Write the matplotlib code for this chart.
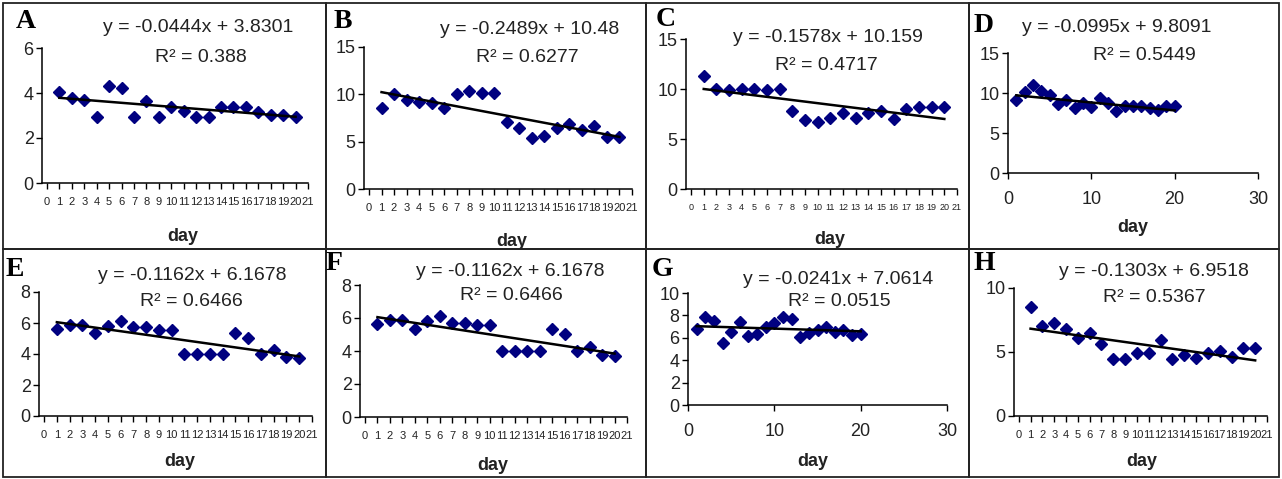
import numpy as np
import matplotlib.pyplot as plt
from matplotlib.patches import Rectangle

W, H = 1282, 479

# ---- data ----
panel_letters = ['A', 'B', 'C', 'D', 'E', 'F', 'G', 'H']
days = list(range(1, 21))

a_vals = [4.06, 3.76, 3.69, 2.95, 4.29, 4.24, 2.95, 3.66, 2.95, 3.36,
          3.20, 2.95, 2.95, 3.39, 3.39, 3.39, 3.17, 3.02, 3.02, 2.95]
b_vals = [8.59, 9.99, 9.39, 9.22, 9.04, 8.52, 9.99, 10.37, 10.16, 10.16,
          7.12, 6.41, 5.43, 5.61, 6.41, 6.83, 6.24, 6.66, 5.50, 5.50]
c_vals = [11.27, 10.0, 9.87, 10.0, 10.0, 9.87, 10.0, 7.83, 6.93, 6.70,
          7.10, 7.60, 7.10, 7.60, 7.83, 7.03, 8.00, 8.17, 8.17, 8.17]
d_vals = [9.08, 10.08, 11.04, 10.2, 9.8, 8.6, 9.17, 8.1, 8.75, 8.3,
          9.4, 8.75, 7.7, 8.33, 8.33, 8.33, 8.1, 7.9, 8.4, 8.33]
e_vals = [5.64, 5.86, 5.90, 5.36, 5.79, 6.12, 5.71, 5.71, 5.58, 5.58,
          4.03, 4.03, 4.03, 4.03, 5.36, 5.06, 4.03, 4.25, 3.78, 3.71]
f_vals = list(e_vals)
g_vals = [6.78, 7.82, 7.52, 5.52, 6.51, 7.40, 6.18, 6.36, 7.00, 7.31,
          7.85, 7.67, 6.03, 6.42, 6.66, 6.96, 6.48, 6.66, 6.27, 6.33]
h_vals = [8.52, 7.01, 7.30, 6.78, 6.13, 6.52, 5.61, 4.49, 4.49, 4.94,
          4.94, 5.92, 4.49, 4.75, 4.57, 4.94, 5.06, 4.62, 5.32, 5.32]

slopes = [-0.0444, -0.2489, -0.1578, -0.0995, -0.1162, -0.1162, -0.0241, -0.1303]
intercepts = [3.8301, 10.48, 10.159, 9.8091, 6.1678, 6.1678, 7.0614, 6.9518]
eq_labels = ['y = -0.0444x + 3.8301', 'y = -0.2489x + 10.48', 'y = -0.1578x + 10.159',
             'y = -0.0995x + 9.8091', 'y = -0.1162x + 6.1678', 'y = -0.1162x + 6.1678',
             'y = -0.0241x + 7.0614', 'y = -0.1303x + 6.9518']
r2_labels = ['0.388', '0.6277', '0.4717', '0.5449', '0.6466', '0.6466', '0.0515', '0.5367']

y_maxes = [6, 15, 15, 15, 8, 8, 10, 10]
y_steps = [2, 5, 5, 5, 2, 2, 2, 5]
numeric_x = [False, False, False, True, False, False, True, False]
cat_ticks = list(range(0, 22))
num_ticks = [0, 10, 20, 30]

all_vals = [a_vals, b_vals, c_vals, d_vals, e_vals, f_vals, g_vals, h_vals]

# ---- layout in pixels ----
# axes box: left, right, top, bottom
boxes = [(42, 308, 48, 183), (364, 632, 47, 189), (686, 957, 39, 189), (1008, 1258, 53, 173),
         (39, 312, 292, 416), (360, 627, 285, 417), (688, 947, 293, 405), (1014, 1267, 288, 416)]
eq_pos = [(198, 28), (530, 30), (828, 38), (1117, 27), (192, 275), (510, 272), (838, 280), (1154, 272)]
r2_pos = [(201, 57), (527, 57), (826, 65), (1144, 55), (191, 302), (511, 295), (839, 302), (1154, 297)]
letter_pos = [(16, 22), (334, 22), (656, 20), (974, 26), (6, 269), (326, 264), (652, 269), (974, 264)]
day_pos = [(183, 236), (512, 241), (830, 240), (1133, 228), (180, 462), (493, 466), (813, 462), (1142, 462)]
col_edges = [3, 326, 646, 969, 1279]
row_edges = [3, 249, 477]

plt.rcParams['font.family'] = 'Liberation Sans'
fig = plt.figure(figsize=(W / 100, H / 100), dpi=100)


def fx(px):
    return px / W


def fy(py):
    return 1 - py / H


# panel frames
for r in range(2):
    for c in range(4):
        x0, x1 = col_edges[c], col_edges[c + 1]
        y0, y1 = row_edges[r], row_edges[r + 1]
        fig.add_artist(Rectangle((fx(x0), fy(y1)), fx(x1 - x0), (y1 - y0) / H,
                                 fill=False, edgecolor='#222222', linewidth=1.3,
                                 transform=fig.transFigure))

for i, letter in enumerate(panel_letters):
    left, right, top, bottom = boxes[i]
    ax = fig.add_axes([fx(left), fy(bottom), (right - left) / W, (bottom - top) / H])
    ax.patch.set_alpha(0)

    vals = all_vals[i]
    ax.plot(days, vals, linestyle='none', marker='D', markersize=6.5,
            color='#000080', zorder=2, clip_on=False)
    xs = np.array([days[0], days[-1]])
    ax.plot(xs, slopes[i] * xs + intercepts[i], color='black', linewidth=1.8, zorder=3)

    ax.set_ylim(0, y_maxes[i])
    ax.set_yticks(range(0, y_maxes[i] + 1, y_steps[i]))
    if numeric_x[i]:
        ax.set_xlim(0, 30)
        ax.set_xticks(num_ticks)
        ax.tick_params(axis='x', labelsize=13, pad=9)
    else:
        ax.set_xlim(-0.4, 21.0)
        ax.set_xticks(cat_ticks)
        ax.tick_params(axis='x', labelsize=8 if i != 2 else 6.5, pad=6)
    ax.tick_params(axis='y', labelsize=13, pad=2)
    ax.tick_params(direction='out', length=4, width=1, color='black', labelcolor='#222222')

    for side in ['top', 'right']:
        ax.spines[side].set_visible(False)
    for side in ['left', 'bottom']:
        ax.spines[side].set_linewidth(1.1)
        ax.spines[side].set_color('black')

    fig.text(fx(eq_pos[i][0]), fy(eq_pos[i][1]), eq_labels[i], fontsize=14,
             ha='center', va='center', color='#222222')
    fig.text(fx(r2_pos[i][0]), fy(r2_pos[i][1]), 'R² = ' + r2_labels[i], fontsize=14,
             ha='center', va='center', color='#222222')
    fig.text(fx(letter_pos[i][0]), fy(letter_pos[i][1]), letter, fontsize=20,
             fontweight='bold', family='Liberation Serif', ha='left', va='center')
    fig.text(fx(day_pos[i][0]), fy(day_pos[i][1]), 'day', fontsize=13,
             fontweight='bold', ha='center', va='center', color='#222222')

plt.savefig('out.png', dpi=100)
